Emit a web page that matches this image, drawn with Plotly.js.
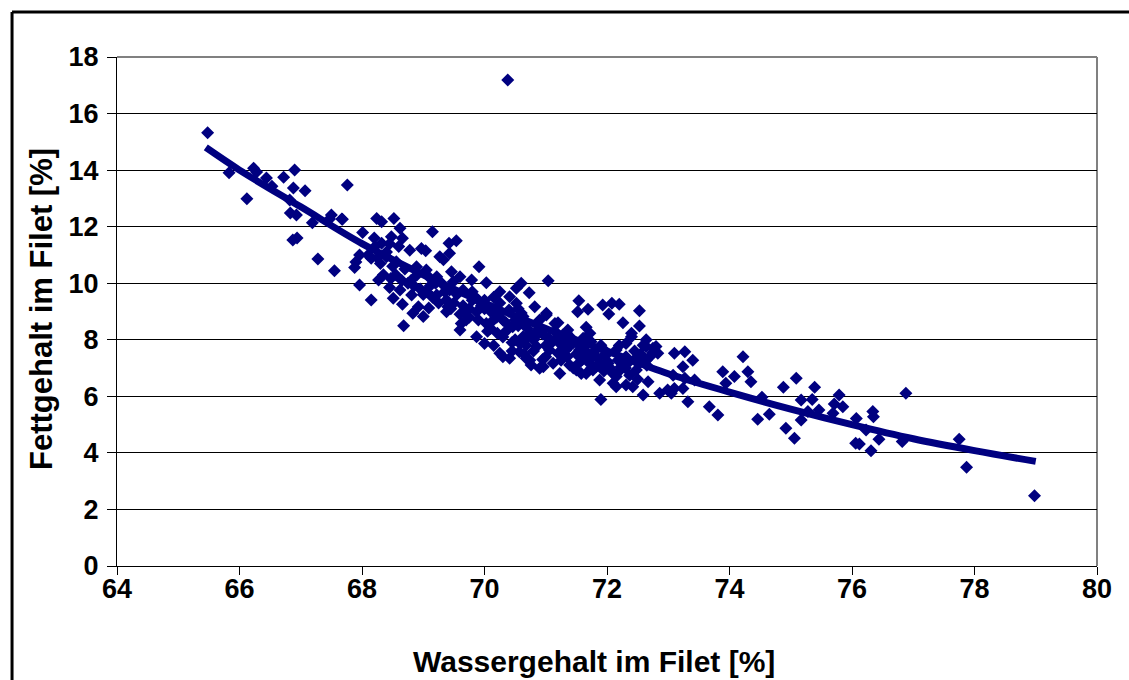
<!DOCTYPE html>
<html>
<head>
<meta charset="utf-8">
<script src="https://cdn.plot.ly/plotly-3.0.1.min.js"></script>
<style>
html,body{margin:0;padding:0;background:#fff;}
#chart{width:1129px;height:680px;}
</style>
</head>
<body>
<div id="chart"></div>
<script>
// Measured points: Wassergehalt (x, %) vs Fettgehalt (y, %)
const wasser = [
65.48,65.83,66.12,66.23,66.28,66.44,66.53,66.72,66.90,66.88,67.07,66.82,66.83,66.93,66.87,66.94,67.19,67.50,67.47,67.67,
67.76,68.01,67.28,67.55,68.24,68.32,68.52,68.62,69.15,69.42,69.54,68.97,69.04,69.27,67.88,67.96,68.15,68.27,68.68,68.47,
68.62,68.66,68.92,69.00,69.09,69.91,69.79,69.40,69.62,69.87,70.00,70.60,70.52,67.68,68.48,68.66,68.21,68.32,68.78,67.96,
67.90,68.15,68.40,68.56,68.89,69.05,69.22,69.46,69.60,68.45,68.81,69.11,69.22,69.43,68.51,68.83,69.43,69.33,70.03,70.73,
71.04,70.25,70.41,70.82,70.52,69.65,69.49,69.38,69.38,69.60,69.87,70.03,70.21,70.46,70.63,70.90,71.01,71.15,71.28,71.33,
70.85,70.68,70.58,70.85,71.06,70.90,70.74,70.30,70.41,70.25,71.25,71.06,70.63,71.54,71.52,71.69,71.93,72.08,72.20,72.03,
72.53,72.26,72.53,72.40,71.66,71.72,71.34,71.01,70.96,71.12,71.39,71.50,71.66,71.82,71.96,72.18,72.31,72.64,72.80,72.83,
72.48,72.67,72.59,72.15,72.31,72.42,71.90,71.88,72.86,72.99,71.77,71.55,71.23,72.59,72.75,72.64,72.48,73.05,73.10,73.27,
73.40,73.08,73.27,73.43,73.24,73.32,73.67,73.81,73.89,73.94,74.08,74.22,74.30,74.35,74.46,74.65,74.53,74.88,75.09,74.92,
75.06,75.17,75.35,75.39,75.17,75.28,75.46,75.71,75.79,75.85,76.07,76.06,76.12,76.31,76.34,76.35,75.69,76.44,76.23,76.82,
76.88,77.75,77.87,78.98,70.38,72.10,72.15,71.77,71.58,71.23,71.20,70.68,70.57,70.76,71.36,71.61,71.74,71.90,72.15,72.31,
72.40,72.64,72.53,72.23,72.02,72.37,73.24,73.10,69.80,69.95,70.10,70.20,70.35,70.50,70.70,70.80,70.95,71.10,71.20,71.40,
71.50,71.60,71.70,71.85,72.00,69.70,69.90,70.10,70.30,70.45,69.55,69.30,69.10,68.90,68.70,68.50,68.30,68.10,68.75,68.95,
69.15,69.45,70.55,70.15,69.80,68.40,68.60,68.20,71.45,71.00,70.80,72.45,72.70,72.30,71.95,71.20,70.60,70.25,
69.65,69.75,69.85,70.00,70.05,70.20,70.35,70.40,70.55,70.65,70.75,70.90,71.00,71.15,71.30,71.45,71.55,71.65,71.80,71.90,
72.05,72.20,72.35,72.55,72.65,69.25,69.50,69.70,68.85,69.00,70.15,70.45,70.65,70.95,71.35,71.75,72.10,72.50,68.35,68.65,
69.60,69.90,70.10,70.30,70.50,70.70,70.85,71.05,71.25,71.40,71.60,71.80,72.00,72.25,69.35,69.75,70.00,70.40,70.60,70.85,
71.10,71.30,71.55,71.70,71.95,72.20,72.45,72.75,68.55,68.80,69.05,69.20,68.25,68.45
];
const fett = [
15.32,13.91,12.99,14.07,13.93,13.72,13.43,13.75,14.00,13.37,13.27,12.94,12.48,12.41,11.53,11.60,12.14,12.41,12.27,12.27,
13.47,11.79,10.86,10.44,12.29,12.17,12.29,11.94,11.82,11.41,11.50,11.23,11.15,10.94,10.56,9.94,9.41,10.11,8.50,10.17,
9.76,9.26,9.17,8.82,9.12,10.58,10.11,9.17,8.58,8.11,7.87,10.00,9.82,12.26,11.64,11.59,11.29,11.41,11.17,11.00,
10.75,10.88,10.94,10.76,10.58,10.47,10.23,10.41,10.23,9.85,9.58,9.90,9.58,9.76,9.47,8.94,11.06,10.83,10.02,9.66,
10.09,9.70,9.52,9.17,9.29,9.76,10.05,9.41,8.99,8.35,8.99,8.58,8.23,8.46,8.82,8.70,8.94,8.58,8.17,7.64,
8.29,7.81,7.87,7.76,7.64,6.99,7.28,7.40,7.35,7.52,7.28,8.00,8.11,9.38,8.99,9.08,9.23,9.29,9.26,8.91,
9.03,8.60,8.49,8.23,8.44,8.23,8.23,8.88,7.05,7.17,7.11,6.93,6.81,7.05,7.46,7.28,7.87,7.76,7.76,7.52,
7.22,6.52,6.05,6.34,6.40,6.34,5.89,6.58,6.11,6.22,7.40,7.64,7.87,7.81,7.70,7.28,6.93,6.11,7.52,7.58,
7.28,6.75,6.64,6.58,6.28,5.81,5.63,5.34,6.87,6.46,6.70,7.40,6.87,6.52,5.19,5.37,5.97,6.32,6.64,4.87,
4.52,5.87,5.89,6.32,5.16,5.46,5.52,5.73,6.05,5.63,5.22,4.34,4.31,4.08,5.46,5.28,5.40,4.48,4.81,4.40,
6.11,4.48,3.49,2.48,17.19,6.46,6.70,6.93,6.81,6.81,7.52,7.35,7.58,7.11,8.35,8.05,7.93,7.81,7.64,7.40,
8.11,8.00,7.17,7.05,7.17,6.75,7.05,6.28,9.40,9.20,9.00,8.80,8.60,8.70,8.40,8.00,8.20,7.90,8.10,7.80,
7.50,7.30,7.20,7.35,7.50,9.00,8.70,8.40,8.10,7.90,9.60,10.00,10.20,10.30,10.50,10.60,10.70,11.00,10.00,9.80,
9.50,9.10,9.10,9.50,9.70,11.10,11.30,11.60,7.00,7.40,7.60,7.60,7.40,7.00,6.90,8.60,8.95,9.30,
9.20,8.80,9.50,9.10,8.30,8.90,8.30,9.00,8.50,8.60,8.20,8.40,7.80,8.30,7.70,7.90,7.20,7.60,7.60,7.10,
7.00,7.80,7.20,7.50,7.10,9.30,9.30,8.70,9.90,9.60,7.80,7.60,7.50,7.30,7.40,7.00,6.80,6.60,10.30,10.10,
8.90,9.40,8.60,8.70,8.00,8.10,8.55,8.05,7.55,8.10,7.85,7.45,7.25,7.25,9.70,9.10,9.40,9.05,8.60,8.15,
7.95,8.00,7.80,7.40,7.65,6.90,7.30,7.55,10.30,10.10,9.70,10.00,10.90,11.40
];
// Trend curve
const trendX = [65.45,66,67,68,69,70,71,72,73,74,75,76,77,78,79];
const trendY = [14.8,14.0,12.7,11.4,10.3,9.3,8.4,7.6,6.8,6.15,5.55,5.0,4.5,4.08,3.7];
const xTicks = [64,66,68,70,72,74,76,78,80];
const yTicks = [0,2,4,6,8,10,12,14,16,18];

const navy = '#000080';
const fontFam = '"Liberation Sans", Arial, sans-serif';

const data = [
  {x: wasser, y: fett, type: 'scatter', mode: 'markers',
   marker: {symbol: 'diamond', size: 10, color: navy}, hoverinfo: 'x+y', showlegend: false},
  {x: trendX, y: trendY, type: 'scatter', mode: 'lines',
   line: {color: navy, width: 7, shape: 'spline'}, hoverinfo: 'skip', showlegend: false}
];

const layout = {
  width: 1129, height: 680,
  margin: {l: 117, r: 32, t: 57, b: 114},
  paper_bgcolor: '#ffffff', plot_bgcolor: '#ffffff',
  font: {family: fontFam, color: '#000000'},
  showlegend: false,
  xaxis: {
    range: [64, 80], tickvals: xTicks, ticktext: xTicks.map(String),
    showgrid: false, zeroline: false,
    showline: true, linecolor: '#000000', linewidth: 1,
    ticks: 'outside', ticklen: 8, tickcolor: '#000000', tickwidth: 1,
    ticklabelstandoff: -9,
    tickfont: {family: fontFam, size: 27, color: '#000', weight: 'bold'}
  },
  yaxis: {
    range: [0, 18], tickvals: yTicks, ticktext: yTicks.map(String),
    showgrid: true, gridcolor: '#000000', gridwidth: 1, zeroline: false,
    showline: true, linecolor: '#000000', linewidth: 1,
    ticks: 'outside', ticklen: 9, tickcolor: '#000000', tickwidth: 1,
    ticklabelstandoff: 3,
    tickfont: {family: fontFam, size: 27, color: '#000', weight: 'bold'}
  },
  annotations: [
    {text: '<b>Wassergehalt im Filet [%]</b>', xref: 'paper', yref: 'paper', x: 0.4867, y: -0.1886,
     xanchor: 'center', yanchor: 'middle', showarrow: false, font: {family: fontFam, size: 30, color: '#000'}},
    {text: '<b>Fettgehalt im Filet [%]</b>', xref: 'paper', yref: 'paper', x: -0.0765, y: 0.505,
     xanchor: 'center', yanchor: 'middle', textangle: -90, showarrow: false, font: {family: fontFam, size: 31, color: '#000'}}
  ],
  shapes: [
    {type: 'line', xref: 'paper', yref: 'paper', x0: 0, x1: 1, y0: 1, y1: 1, line: {color: '#808080', width: 2}, layer: 'below'},
    {type: 'line', xref: 'paper', yref: 'paper', x0: 1, x1: 1, y0: 0, y1: 1, line: {color: '#808080', width: 2}, layer: 'below'},
    {type: 'line', xref: 'paper', yref: 'paper', x0: -0.1071, x1: -0.1071, y0: -0.3, y1: 1.0884, line: {color: '#000000', width: 3}},
    {type: 'line', xref: 'paper', yref: 'paper', x0: -0.1071, x1: 1.1, y0: 1.0884, y1: 1.0884, line: {color: '#000000', width: 3}}
  ]
};

Plotly.newPlot('chart', data, layout, {displayModeBar: false, staticPlot: true});
</script>
</body>
</html>
